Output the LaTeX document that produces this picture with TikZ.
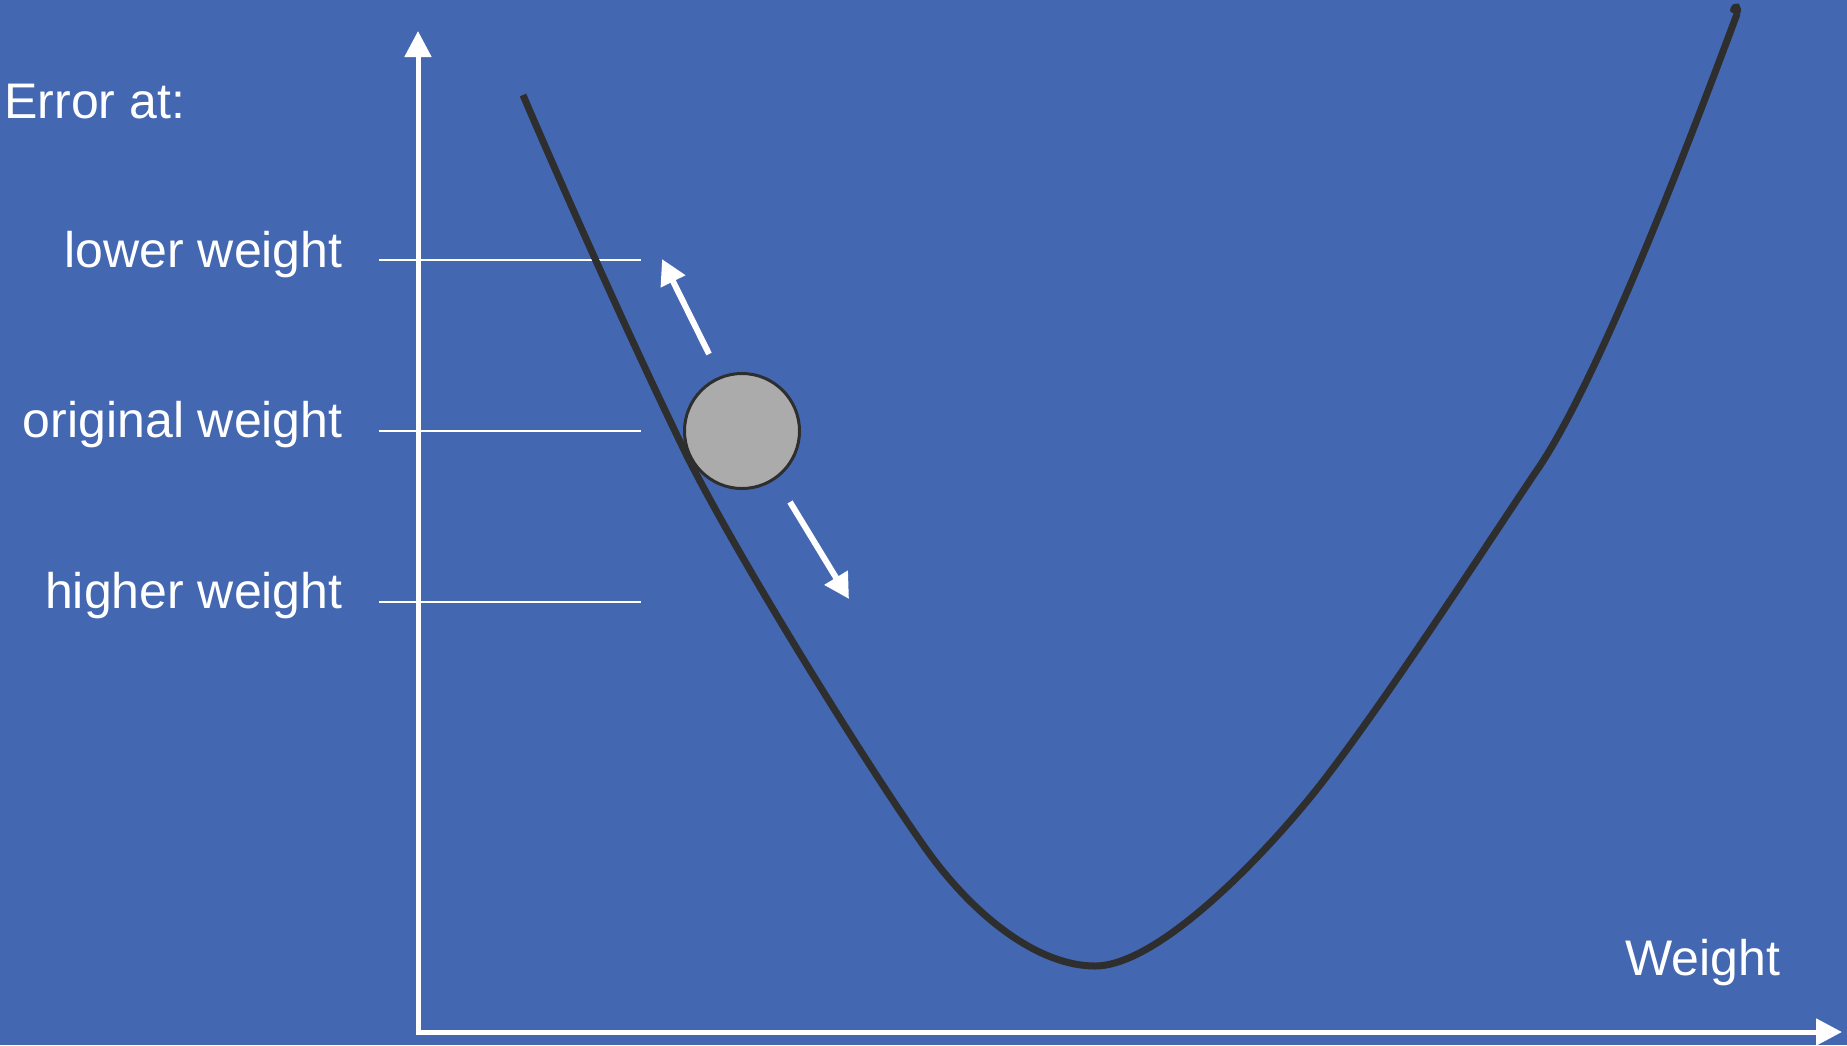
\documentclass[tikz,border=0pt]{standalone}
\usepackage{fontspec}
\setmainfont{Liberation Sans}
\usetikzlibrary{arrows.meta}
\definecolor{bg}{RGB}{67,104,177}
\definecolor{curvec}{RGB}{46,46,46}
\definecolor{ballc}{RGB}{171,171,171}
\begin{document}
\begin{tikzpicture}[x=0.5pt,y=-0.5pt,
  lbl/.style={text=white,font=\fontsize{25}{30}\selectfont,inner sep=0pt},
  axisline/.style={white,line width=2.5pt,line join=miter,{Triangle[length=13pt,width=13pt]}-{Triangle[length=13pt,width=13pt]}},
  guide/.style={white,line width=1pt},
  movearrow/.style={white,line width=3pt,-{Triangle[length=12.5pt,width=13pt]}},
  errcurve/.style={curvec,line width=3.5pt},
  ballstyle/.style={circle,fill=ballc,draw=curvec,line width=1.5pt,minimum size=57.5pt,inner sep=0pt}
]
\fill[bg] (0,0) rectangle (1847,1045);
\useasboundingbox (0,0) rectangle (1847,1045);

% axes
\coordinate (ytip) at (418,31);
\coordinate (origin) at (418,1032);
\coordinate (xtip) at (1842,1032);
\draw[axisline] (ytip) -- (origin) -- (xtip);

% guide lines
\coordinate (g1a) at (379,260); \coordinate (g1b) at (641,260);
\coordinate (g2a) at (379,431); \coordinate (g2b) at (641,431);
\coordinate (g3a) at (379,602); \coordinate (g3b) at (641,602);
\draw[guide] (g1a) -- (g1b);
\draw[guide] (g2a) -- (g2b);
\draw[guide] (g3a) -- (g3b);

% labels
\node[lbl,anchor=base west] (err) at (4,118) {Error at:};
\node[lbl,anchor=base east] (lw) at (343,267) {lower weight};
\node[lbl,anchor=base east] (ow) at (343,437) {original weight};
\node[lbl,anchor=base east] (hw) at (343,608) {higher weight};
\node[lbl,anchor=base west] (wt) at (1625,975) {Weight};

% ball
\node[ballstyle] (ball) at (742,431) {};

% error curve
\coordinate (c0) at (523,95);
\coordinate (c1) at (688,458);
\coordinate (c2) at (926,849);
\coordinate (cmin) at (1095,966);
\coordinate (c3) at (1324,780);
\coordinate (c4) at (1535,473);
\coordinate (c5) at (1737,14);
\draw[errcurve] (c0) .. controls (570,205) and (640,360) .. (c1)
  .. controls (745,570) and (870,770) .. (c2)
  .. controls (976,919) and (1040,966) .. (cmin)
  .. controls (1160,966) and (1270,850) .. (c3)
  .. controls (1390,694) and (1480,555) .. (c4)
  .. controls (1597,385) and (1690,140) .. (c5);
\draw[curvec,line width=3pt,line cap=round] (c5) .. controls (1740,6) and (1735,4) .. (1733,10);

% movement arrows
\coordinate (upS) at (709,354); \coordinate (upE) at (662,259);
\coordinate (dnS) at (790,502); \coordinate (dnE) at (849,599);
\draw[movearrow] (upS) -- (upE);
\draw[movearrow] (dnS) -- (dnE);
\end{tikzpicture}
\end{document}
